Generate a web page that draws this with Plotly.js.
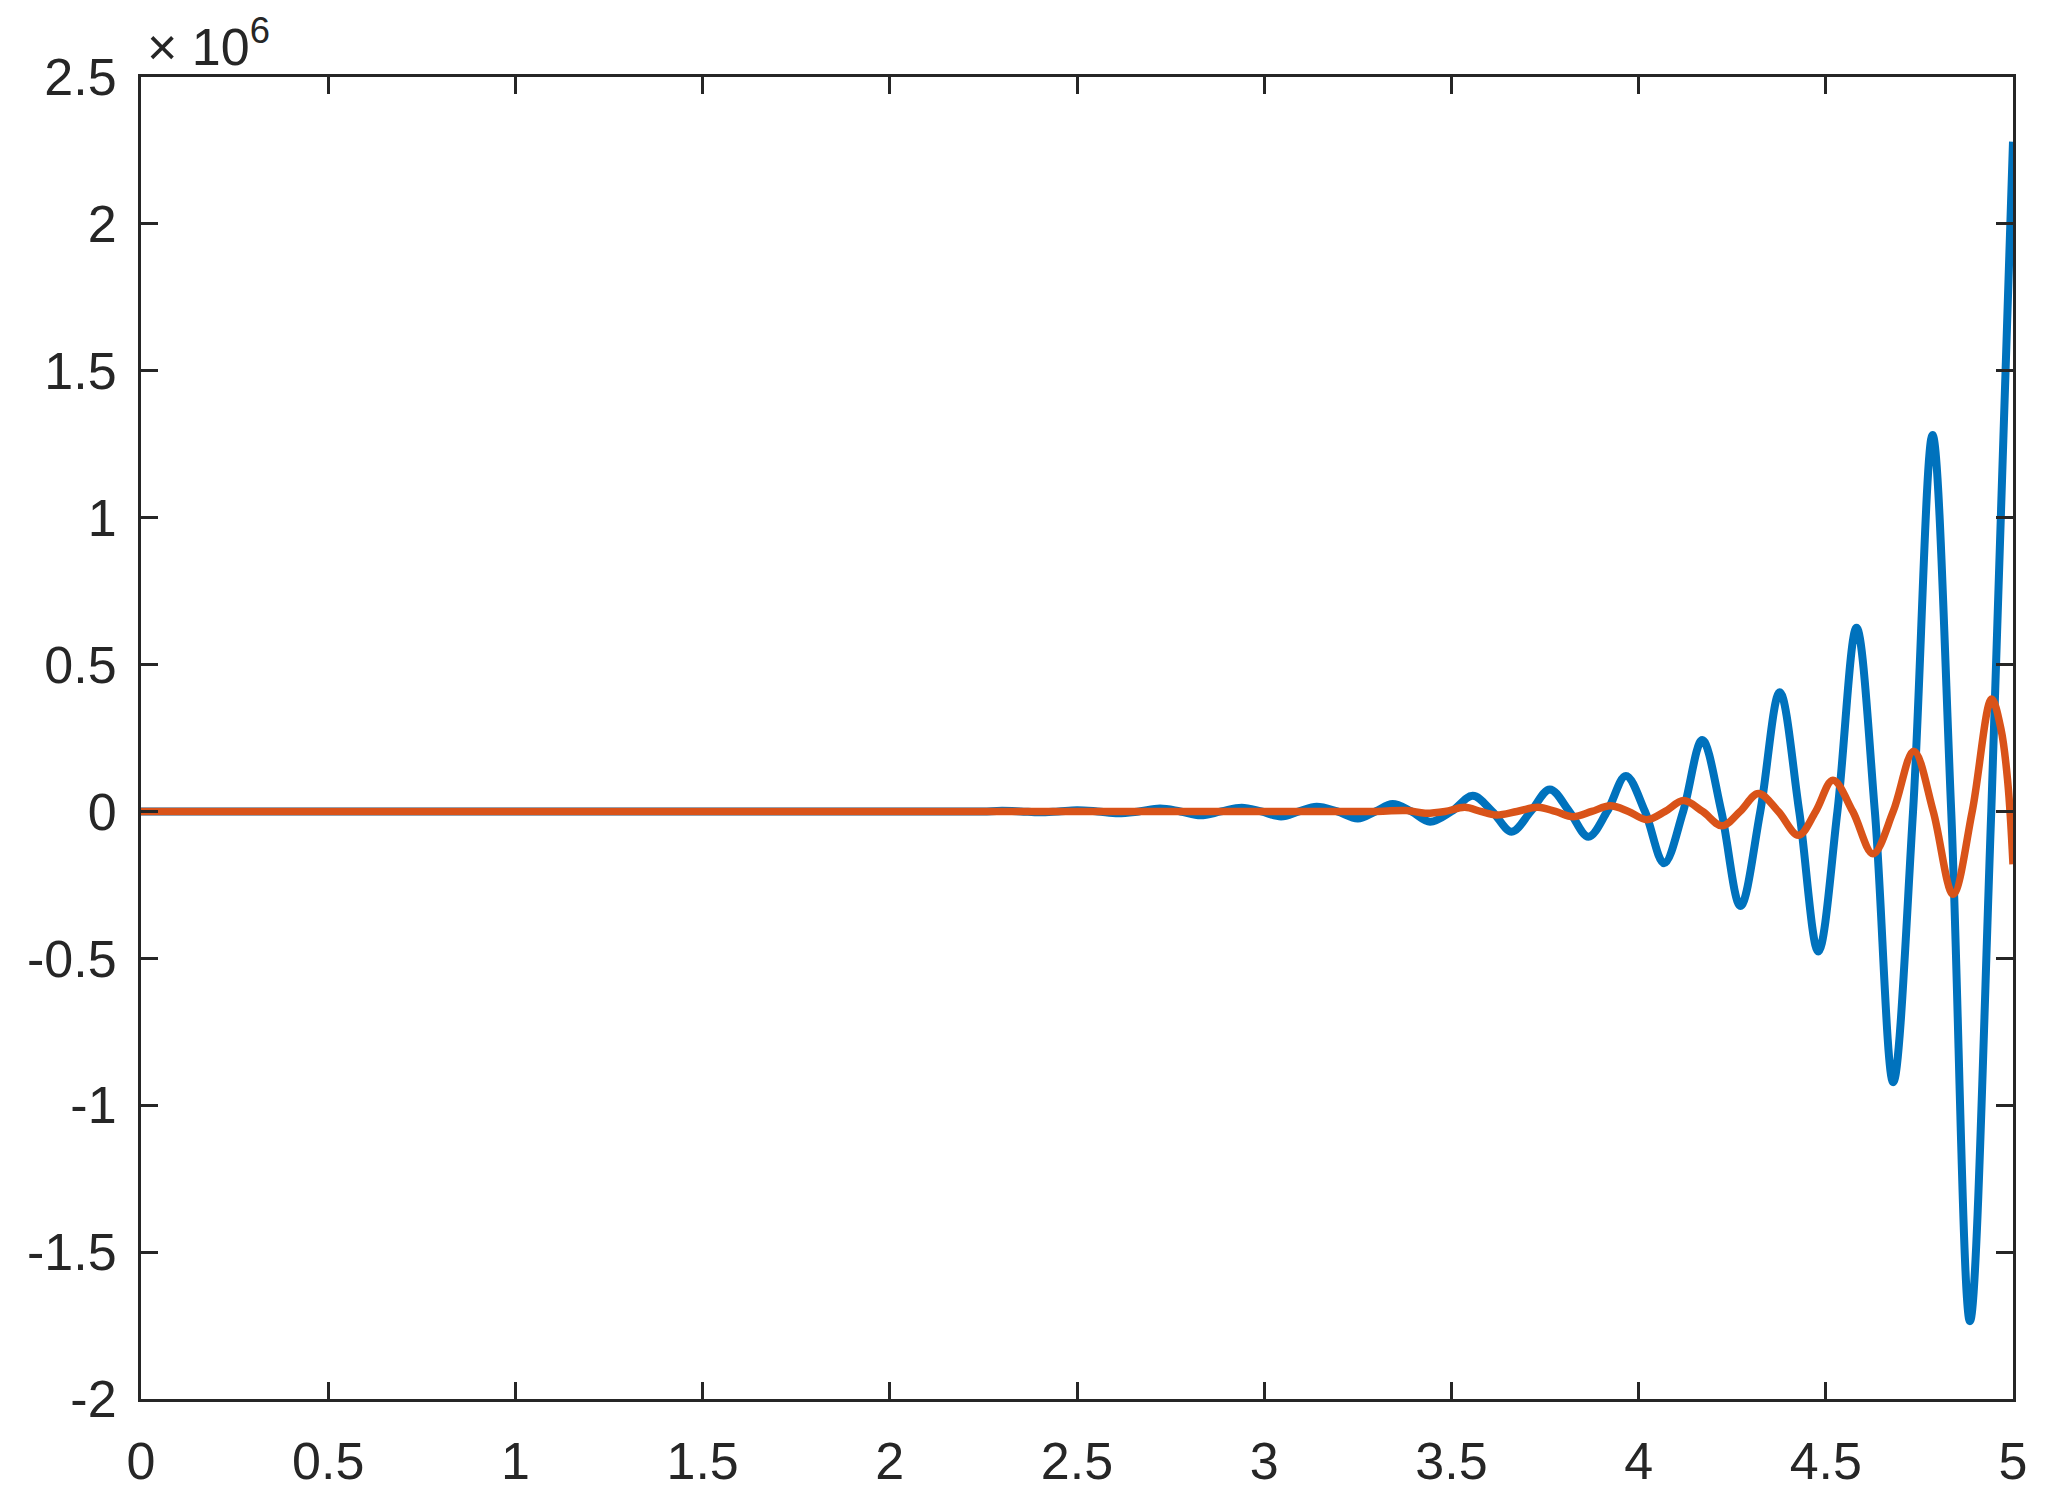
<!DOCTYPE html>
<html>
<head>
<meta charset="utf-8">
<script src="https://cdn.plot.ly/plotly-3.0.1.min.js"></script>
<style>
  html, body { margin: 0; padding: 0; background: #ffffff; }
  #chart { width: 2071px; height: 1510px; }
</style>
</head>
<body>
<div id="chart"></div>
<script>
// Values; y values are in units of 10^6.
const blueX = [0, 1.0, 2.0, 2.2, 2.25, 2.3, 2.35, 2.4, 2.45, 2.5, 2.555, 2.61, 2.665, 2.722, 2.776, 2.83, 2.885, 2.94, 2.992, 3.045, 3.093, 3.14, 3.195, 3.25, 3.297, 3.343, 3.393, 3.443, 3.50, 3.557, 3.609, 3.661, 3.712, 3.763, 3.815, 3.866, 3.916, 3.966, 4.017, 4.068, 4.119, 4.17, 4.221, 4.272, 4.325, 4.377, 4.429, 4.48, 4.531, 4.582, 4.631, 4.68, 4.733, 4.785, 4.835, 4.885, 4.942, 5.0];
const blueY = [0, 0, 0, 0, 0, 0.002, 0, -0.003, 0, 0.004, 0, -0.006, 0, 0.010, 0, -0.013, 0, 0.013, 0, -0.017, 0, 0.016, 0, -0.024, 0, 0.025, 0, -0.035, 0, 0.053, 0, -0.069, 0, 0.075, 0, -0.086, 0, 0.121, 0, -0.176, 0, 0.243, 0, -0.322, 0, 0.406, 0, -0.477, 0, 0.625, 0, -0.922, 0, 1.281, 0, -1.735, 0, 2.28];

const orangeX = [0, 1.0, 2.0, 3.0, 3.3, 3.38, 3.43, 3.483, 3.536, 3.578, 3.62, 3.675, 3.731, 3.778, 3.825, 3.875, 3.924, 3.973, 4.022, 4.071, 4.12, 4.171, 4.223, 4.271, 4.32, 4.373, 4.427, 4.473, 4.519, 4.572, 4.626, 4.68, 4.735, 4.787, 4.84, 4.891, 4.943, 4.968, 4.986, 5.0];
const orangeY = [0, 0, 0, 0, 0, 0.003, -0.006, 0, 0.014, 0, -0.012, 0, 0.014, 0, -0.018, 0, 0.019, 0, -0.028, 0, 0.037, 0, -0.049, 0, 0.061, 0, -0.081, 0, 0.106, 0, -0.144, 0, 0.205, 0, -0.282, 0, 0.383, 0.28, 0.10, -0.18];

const xTicks = [0, 0.5, 1, 1.5, 2, 2.5, 3, 3.5, 4, 4.5, 5];
const xTickText = ['0', '0.5', '1', '1.5', '2', '2.5', '3', '3.5', '4', '4.5', '5'];
const yTicks = [-2, -1.5, -1, -0.5, 0, 0.5, 1, 1.5, 2, 2.5];
const yTickText = ['-2', '-1.5', '-1', '-0.5', '0', '0.5', '1', '1.5', '2', '2.5'];
const exponentLabel = '× 10<sup>6</sup>';

const axisColor = '#262626';
const fontFamily = '"Liberation Sans", Arial, Helvetica, sans-serif';

const traces = [
  {
    x: blueX, y: blueY, type: 'scatter', mode: 'lines',
    line: { color: '#0072BD', width: 8, shape: 'spline', smoothing: 1 },
    hoverinfo: 'skip', showlegend: false
  },
  {
    x: orangeX, y: orangeY, type: 'scatter', mode: 'lines',
    line: { color: '#D95319', width: 7.5, shape: 'spline', smoothing: 1 },
    hoverinfo: 'skip', showlegend: false
  }
];

const commonAxis = {
  showgrid: false, zeroline: false,
  showline: true, linecolor: axisColor, linewidth: 3,
  mirror: 'ticks', ticks: 'inside', ticklen: 17, tickwidth: 3, tickcolor: axisColor,
  tickfont: { family: fontFamily, size: 52, color: axisColor }
};

const layout = {
  width: 2071, height: 1510,
  margin: { l: 141, r: 58, t: 77, b: 111, pad: 0 },
  paper_bgcolor: '#ffffff', plot_bgcolor: '#ffffff',
  font: { family: fontFamily, color: axisColor },
  xaxis: Object.assign({}, commonAxis, {
    range: [0, 5], tickmode: 'array', tickvals: xTicks, ticktext: xTickText,
    ticklabelstandoff: 15
  }),
  yaxis: Object.assign({}, commonAxis, {
    range: [-2, 2.5], tickmode: 'array', tickvals: yTicks, ticktext: yTickText,
    ticklabelstandoff: 11
  }),
  annotations: [{
    text: exponentLabel, xref: 'paper', yref: 'paper',
    x: 0.002, y: 0.999, xanchor: 'left', yanchor: 'bottom',
    showarrow: false, font: { family: fontFamily, size: 52, color: axisColor }
  }]
};

Plotly.newPlot('chart', traces, layout, { staticPlot: true, displayModeBar: false });
</script>
</body>
</html>
